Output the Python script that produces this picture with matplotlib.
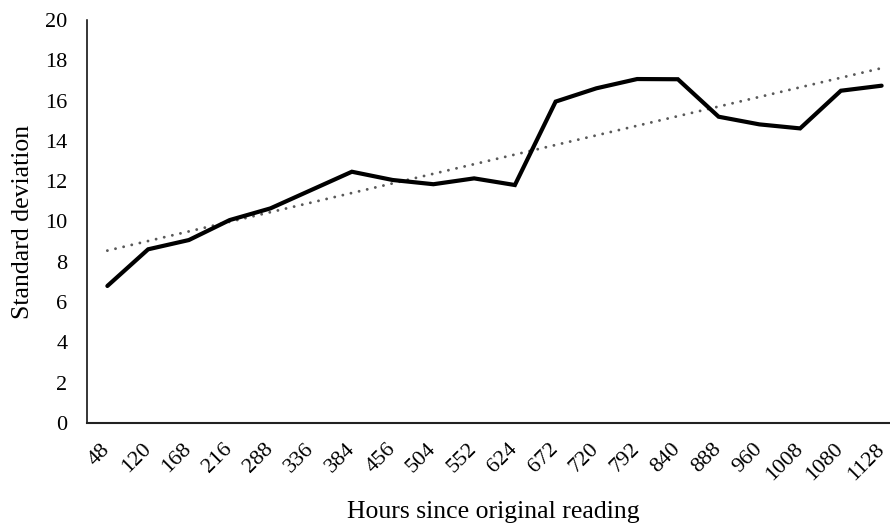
import matplotlib
matplotlib.use("Agg")
import matplotlib.pyplot as plt
import matplotlib.transforms as mtransforms
import numpy as np

hours = ["48", "120", "168", "216", "288", "336", "384", "456", "504", "552",
         "624", "672", "720", "792", "840", "888", "960", "1008", "1080", "1128"]
std_dev = [6.8, 8.62, 9.08, 10.07, 10.65, 11.56, 12.47, 12.06, 11.85, 12.14,
           11.81, 15.95, 16.61, 17.07, 17.06, 15.2, 14.82, 14.62, 16.49, 16.74]
y_ticks = [0, 2, 4, 6, 8, 10, 12, 14, 16, 18, 20]

plt.rcParams['font.family'] = ['Liberation Serif', 'DejaVu Serif']

fig = plt.figure(figsize=(8.9, 5.26), dpi=100)
ax = fig.add_axes([87 / 890, (526 - 423) / 526, (902 - 87) / 890, (423 - 20) / 526])

x = np.arange(len(hours))
ax.plot(x, std_dev, color='black', linewidth=3.0, solid_joinstyle='miter',
        solid_capstyle='round', zorder=3)

coef = np.polyfit(x, std_dev, 1)
trend = np.polyval(coef, x)
ax.plot(x, trend, color='#595959', linewidth=2.1, linestyle=(0, (0.01, 2.85)),
        dash_capstyle='round', zorder=2)

ax.set_xlim(-0.5, len(hours) - 0.5)
ax.set_ylim(0, 20)
ax.set_yticks(y_ticks)
ax.set_yticklabels([str(t) for t in y_ticks], fontsize=16)
ax.set_xticks(x)
ax.set_xticklabels(hours, fontsize=16, rotation=45, ha='right', va='center',
                   rotation_mode='anchor')
offset = mtransforms.ScaledTranslation(3 / 100, 0, fig.dpi_scale_trans)
for lbl in ax.get_xticklabels():
    lbl.set_transform(lbl.get_transform() + offset)
ax.tick_params(axis='both', length=0)
ax.tick_params(axis='y', pad=14)
ax.tick_params(axis='x', pad=17)

for s in ['top', 'right']:
    ax.spines[s].set_visible(False)
ax.spines['left'].set_linewidth(1.1)
ax.spines['bottom'].set_linewidth(1.5)
ax.spines['left'].set_color('black')
ax.spines['bottom'].set_color('#222222')

fig.text(23 / 890, 1 - 222 / 526, "Standard deviation", rotation=90,
         ha='center', va='center', fontsize=18.5)
fig.text(493 / 890, 1 - 512 / 526, "Hours since original reading",
         ha='center', va='center', fontsize=18.5)

fig.savefig("out.png", dpi=100)
